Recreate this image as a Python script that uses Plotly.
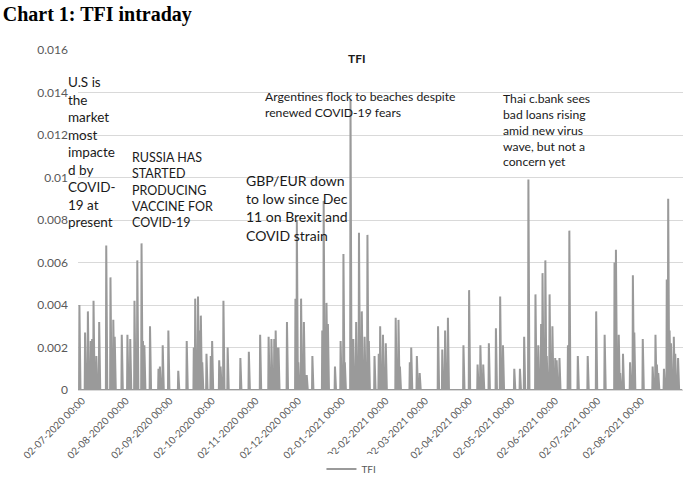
import plotly.graph_objects as go
import pandas as pd

# spike readings (date, value); all other times are 0
spike_dates = [
    "2020-06-30", "2020-07-04", "2020-07-06", "2020-07-08", "2020-07-09", "2020-07-10",
    "2020-07-12", "2020-07-14", "2020-07-19", "2020-07-22", "2020-07-23", "2020-07-24",
    "2020-07-25", "2020-07-30", "2020-08-03", "2020-08-05", "2020-08-08", "2020-08-10",
    "2020-08-13", "2020-08-14", "2020-08-15", "2020-08-19", "2020-08-25", "2020-08-26",
    "2020-08-28", "2020-09-01", "2020-09-08", "2020-09-14", "2020-09-19", "2020-09-20",
    "2020-09-22", "2020-09-23", "2020-09-24", "2020-09-25", "2020-09-28", "2020-10-01",
    "2020-10-02", "2020-10-07", "2020-10-08", "2020-10-10", "2020-10-13", "2020-10-22",
    "2020-10-28", "2020-11-05", "2020-11-11", "2020-11-13", "2020-11-15", "2020-11-16",
    "2020-11-17", "2020-11-18", "2020-11-24", "2020-11-30", "2020-12-01", "2020-12-02",
    "2020-12-04", "2020-12-06", "2020-12-08", "2020-12-12", "2020-12-19", "2020-12-20",
    "2020-12-22", "2020-12-23", "2020-12-28", "2021-01-01", "2021-01-03", "2021-01-04",
    "2021-01-08", "2021-01-10", "2021-01-12", "2021-01-14", "2021-01-16", "2021-01-18",
    "2021-01-20", "2021-01-21", "2021-01-25", "2021-01-28", "2021-01-29", "2021-01-31",
    "2021-02-02", "2021-02-09", "2021-02-11", "2021-02-12", "2021-02-19", "2021-02-20",
    "2021-02-24", "2021-02-26", "2021-03-11", "2021-03-14", "2021-03-16", "2021-03-18",
    "2021-03-29", "2021-04-02", "2021-04-08", "2021-04-10", "2021-04-12", "2021-04-16",
    "2021-04-21", "2021-04-24", "2021-04-26", "2021-05-04", "2021-05-08", "2021-05-11",
    "2021-05-14", "2021-05-19", "2021-05-21", "2021-05-23", "2021-05-24", "2021-05-26",
    "2021-05-27", "2021-05-29", "2021-05-31", "2021-06-02", "2021-06-03", "2021-06-05",
    "2021-06-11", "2021-06-12", "2021-06-18", "2021-06-25", "2021-07-01", "2021-07-07",
    "2021-07-14", "2021-07-15", "2021-07-17", "2021-07-18", "2021-07-20", "2021-07-25",
    "2021-07-27", "2021-07-28", "2021-08-03", "2021-08-10", "2021-08-12", "2021-08-13",
    "2021-08-14", "2021-08-18", "2021-08-20", "2021-08-21", "2021-08-22", "2021-08-23",
    "2021-08-25", "2021-08-26", "2021-08-28",
]
spike_values = [
    0.0040, 0.0027, 0.0037, 0.0023, 0.0024, 0.0042,
    0.0016, 0.0032, 0.0068, 0.0053, 0.0013, 0.0033,
    0.0025, 0.0026, 0.0026, 0.0024, 0.0042, 0.0061,
    0.0069, 0.0023, 0.0021, 0.0030, 0.0010, 0.0011,
    0.0021, 0.0028, 0.0009, 0.0023, 0.0020, 0.0043,
    0.0044, 0.0028, 0.0035, 0.0013, 0.0017, 0.0016,
    0.0023, 0.0014, 0.0011, 0.0042, 0.0020, 0.0015,
    0.0018, 0.0026, 0.0025, 0.0024, 0.0024, 0.0028,
    0.0020, 0.0020, 0.0032, 0.0043, 0.0080, 0.0013,
    0.0043, 0.0032, 0.0007, 0.0016, 0.0028, 0.0089,
    0.0041, 0.0031, 0.0011, 0.0023, 0.0064, 0.0013,
    0.0137, 0.0024, 0.0032, 0.0074, 0.0037, 0.0025,
    0.0073, 0.0023, 0.0016, 0.0017, 0.0030, 0.0026,
    0.0022, 0.0034, 0.0033, 0.0011, 0.0013, 0.0020,
    0.0016, 0.0008, 0.0030, 0.0019, 0.0028, 0.0034,
    0.0021, 0.0047, 0.0012, 0.0021, 0.0012, 0.0022,
    0.0029, 0.0044, 0.0021, 0.0010, 0.0010, 0.0025,
    0.0099, 0.0045, 0.0021, 0.0031, 0.0055, 0.0061,
    0.0016, 0.0045, 0.0030, 0.0015, 0.0014, 0.0015,
    0.0021, 0.0075, 0.0016, 0.0016, 0.0037, 0.0026,
    0.0060, 0.0066, 0.0026, 0.0008, 0.0017, 0.0013,
    0.0054, 0.0027, 0.0024, 0.0011, 0.0026, 0.0012,
    0.0008, 0.0010, 0.0052, 0.0090, 0.0028, 0.0022,
    0.0025, 0.0017, 0.0015,
]

y_ticks = [0, 0.002, 0.004, 0.006, 0.008, 0.01, 0.012, 0.014, 0.016]
y_tick_labels = ["0", "0.002", "0.004", "0.006", "0.008", "0.01", "0.012", "0.014", "0.016"]
x_ticks = pd.date_range("2020-07-02", periods=14, freq=pd.DateOffset(months=1))

notes = [
    "U.S is<br>the<br>market<br>most<br>impacte<br>d by<br>COVID-<br>19 at<br>present",
    "RUSSIA HAS<br>STARTED<br>PRODUCING<br>VACCINE FOR<br>COVID-19",
    "GBP/EUR down<br>to low since Dec<br>11 on Brexit and<br>COVID strain",
    "Argentines flock to beaches despite<br>renewed COVID-19 fears",
    "Thai c.bank sees<br>bad loans rising<br>amid new virus<br>wave, but not a<br>concern yet",
]

# intraday grid (6-hourly), zero outside the spikes
stamps = pd.date_range("2020-06-29", "2021-08-31", freq="6h")
tfi = pd.Series(spike_values, index=pd.to_datetime(spike_dates)).reindex(stamps).fillna(0)

fig = go.Figure(
    go.Scatter(
        x=tfi.index, y=tfi.values, mode="lines", name="TFI",
        line=dict(color="#9a9a9a", width=2),
    )
)

# (x, y, font size) in paper coords for each note
note_pos = [(-0.0198, 0.935, 13.5), (0.086, 0.712, 12.5), (0.2744, 0.647, 14),
            (0.3057, 0.891, 12.2), (0.6992, 0.884, 12.2)]
for text, (x, y, fs) in zip(notes, note_pos):
    fig.add_annotation(
        text=text, xref="paper", yref="paper", x=x, y=y,
        xanchor="left", yanchor="top", align="left", showarrow=False,
        font=dict(family="Lato", size=fs, color="#1a1a1a"),
    )

fig.add_annotation(
    text="<b>TFI</b>", xref="paper", yref="paper", x=0.461, y=0.976,
    xanchor="center", yanchor="middle",
    showarrow=False, font=dict(family="Lato", size=12, color="#1a1a1a"),
)

fig.update_layout(
    width=685, height=477,
    margin=dict(l=78, r=2, t=50, b=87, autoexpand=False),
    plot_bgcolor="white", paper_bgcolor="white",
    title=dict(
        text="<b>Chart 1: TFI intraday</b>", xref="container", yref="container",
        x=0.004, y=0.985, xanchor="left", yanchor="top",
        font=dict(family="Liberation Serif", size=20, color="black"),
    ),
    showlegend=True,
    legend=dict(
        orientation="h", x=0.452, y=-0.232, xanchor="center", yanchor="middle",
        font=dict(family="Lato", size=10, color="#595959"), itemwidth=30,
    ),
    xaxis=dict(
        type="date", range=["2020-06-29", "2021-08-31 12:00"], automargin=False,
        tickvals=x_ticks, tickformat="%d-%m-%Y %H:%M", tickangle=-45,
        showgrid=False, showline=True, linecolor="#d9d9d9", linewidth=1,
        tickfont=dict(family="Lato", size=10, color="#595959"),
    ),
    yaxis=dict(
        range=[0, 0.016], tickvals=y_ticks, ticktext=y_tick_labels, automargin=False,
        showgrid=True, gridcolor="#d9d9d9", gridwidth=1, zeroline=False,
        tickfont=dict(family="Lato", size=12, color="#595959"),
        ticklabelstandoff=9,
    ),
)

fig.write_html(
    "out.html",
    config={"displayModeBar": False},
    post_script="document.body.style.margin='0';",
)
